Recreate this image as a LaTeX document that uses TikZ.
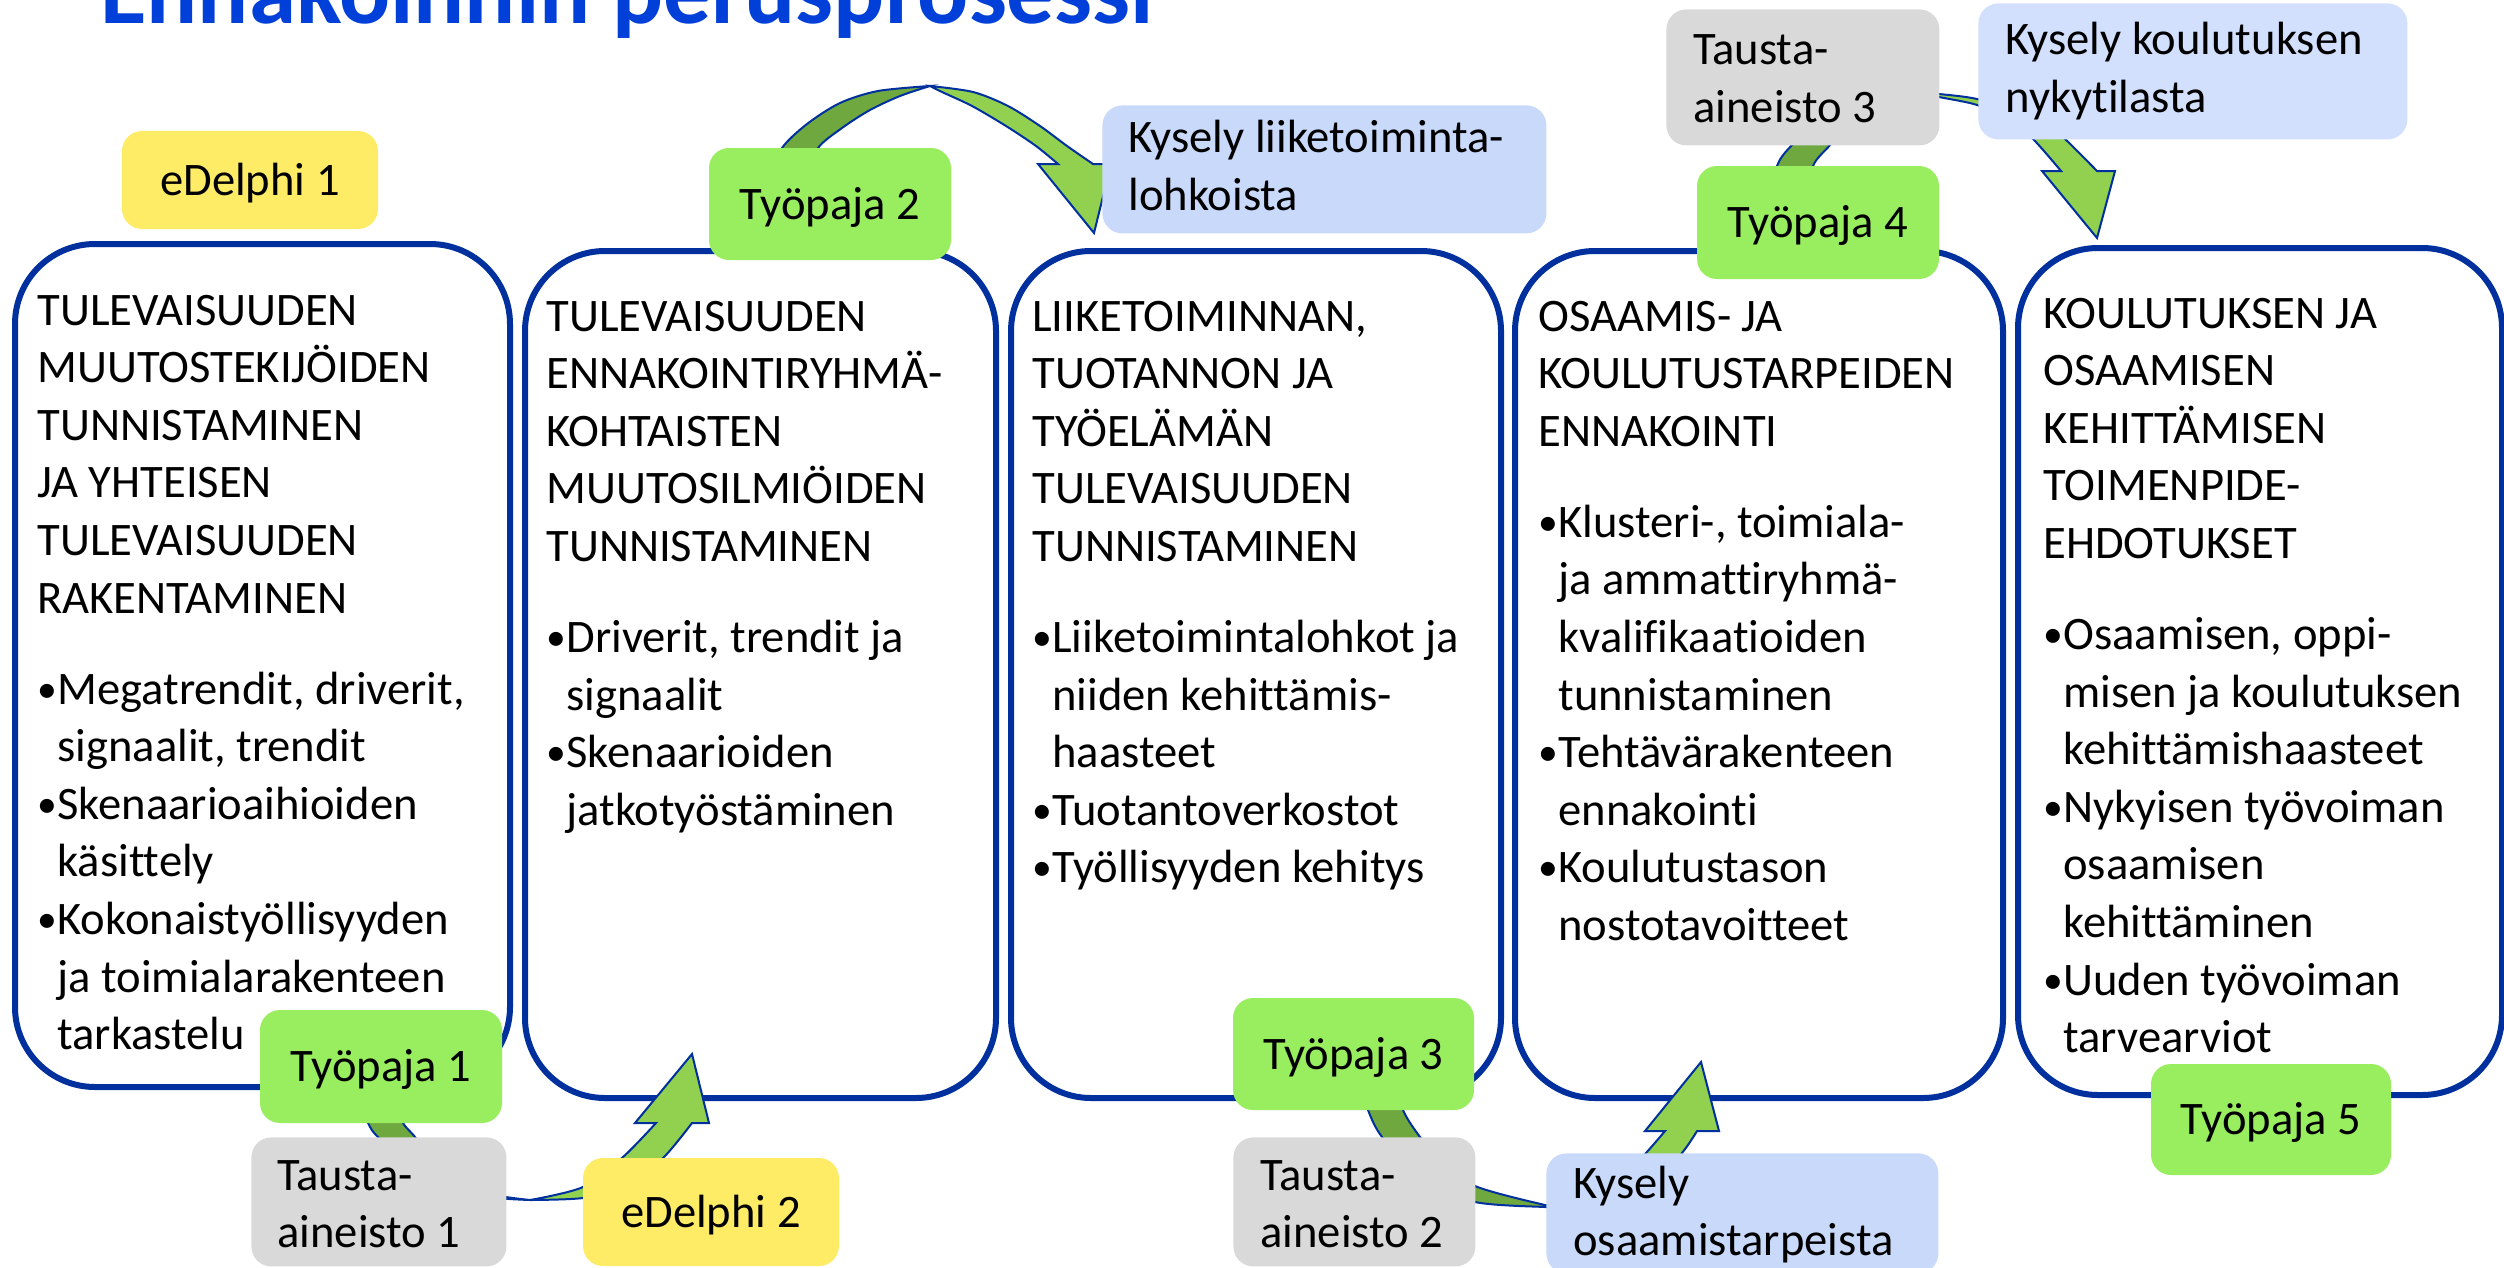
\documentclass[tikz,border=0pt]{standalone}
\usepackage{fontspec}
\setmainfont{Carlito}[Ligatures=NoCommon]
\definecolor{boxblue}{RGB}{0,48,158}
\definecolor{titleblue}{RGB}{0,64,216}
\definecolor{labgreen}{RGB}{153,238,96}
\definecolor{labyellow}{RGB}{255,236,102}
\definecolor{labgray}{RGB}{217,217,217}
\definecolor{kyselyA}{RGB}{200,217,250}
\definecolor{kyselyB}{RGB}{210,223,253}
\definecolor{arrowgreen}{RGB}{146,208,80}
\definecolor{arrowdark}{RGB}{112,168,64}
\newcommand{\bulletmark}{\makebox[10pt][l]{\raisebox{1pt}{\scalebox{0.85}{•}}}}
\newcommand{\contind}{\hspace*{10pt}}
\newcommand{\boxfont}{\fontsize{23.3}{28.8}\selectfont}
\begin{document}
\begin{tikzpicture}[x=0.5pt,y=-0.5pt,
  bigbox/.style={draw=boxblue, line width=3pt, fill=white, rounded corners=40pt, inner sep=0, anchor=north west},
  boxtext/.style={anchor=base west, inner sep=0, font=\boxfont},
  lab/.style={rounded corners=10pt, inner sep=0, font=\boxfont, text height=15pt, text depth=0pt},
  labshape/.style={rounded corners=10pt, inner sep=0, anchor=north west},
  labtext/.style={anchor=base west, inner sep=0, font=\boxfont},
  arrowback/.style={fill=arrowdark, draw=boxblue, line width=1pt, line join=miter},
  arrowfront/.style={fill=arrowgreen, draw=boxblue, line width=1pt, line join=miter},
]
\path[use as bounding box, clip] (0,0) rectangle (2504,1268);
\fill[white] (0,0) rectangle (2504,1268);

% title (cut at top)
\node[anchor=base west, inner sep=0, text=titleblue, font=\bfseries\fontsize{47.6}{56}\selectfont] (title) at (100,24) {Ennakoinnin perusprosessi};

% big boxes
\node[bigbox, minimum width=247.5pt, minimum height=421.5pt] (b1) at (12,241) {};
\node[bigbox, minimum width=235.5pt, minimum height=423.5pt] (b2) at (522,248) {};
\node[bigbox, minimum width=245pt, minimum height=423.5pt] (b3) at (1008,248) {};
\node[bigbox, minimum width=244pt, minimum height=423.5pt] (b4) at (1512,248) {};
\node[bigbox, minimum width=242pt, minimum height=423.5pt] (b5) at (2015,245) {};

% box texts
\node[boxtext] (t1) at (37,325) {\parbox[t]{320pt}{TULEVAISUUDEN\\ MUUTOSTEKIJÖIDEN\\ TUNNISTAMINEN\\ JA YHTEISEN\\ TULEVAISUUDEN\\ RAKENTAMINEN\\[16.75pt]
\bulletmark Megatrendit, driverit,\\ \contind signaalit, trendit\\ \bulletmark Skenaarioaihioiden\\ \contind käsittely\\ \bulletmark Kokonaistyöllisyyden\\ \contind ja toimialarakenteen\\ \contind tarkastelu}};

\node[boxtext] (t2) at (546,331) {\parbox[t]{320pt}{TULEVAISUUDEN\\ ENNAKOINTIRYHMÄ-\\ KOHTAISTEN\\ MUUTOSILMIÖIDEN\\ TUNNISTAMINEN\\[16.75pt]
\bulletmark Driverit, trendit ja\\ \contind signaalit\\ \bulletmark Skenaarioiden\\ \contind jatkotyöstäminen}};

\node[boxtext] (t3) at (1032,331) {\parbox[t]{320pt}{LIIKETOIMINNAN,\\ TUOTANNON JA\\ TYÖELÄMÄN\\ TULEVAISUUDEN\\ TUNNISTAMINEN\\[16.75pt]
\bulletmark Liiketoimintalohkot ja\\ \contind niiden kehittämis-\\ \contind haasteet\\ \bulletmark Tuotantoverkostot\\ \bulletmark Työllisyyden kehitys}};

\node[boxtext] (t4) at (1538,331) {\parbox[t]{320pt}{OSAAMIS- JA\\ KOULUTUSTARPEIDEN\\ ENNAKOINTI\\[16.75pt]
\bulletmark Klusteri-, toimiala-\\ \contind ja ammattiryhmä-\\ \contind kvalifikaatioiden\\ \contind tunnistaminen\\ \bulletmark Tehtävärakenteen\\ \contind ennakointi\\ \bulletmark Koulutustason\\ \contind nostotavoitteet}};

\node[boxtext] (t5) at (2043,328) {\parbox[t]{320pt}{KOULUTUKSEN JA\\ OSAAMISEN\\ KEHITTÄMISEN\\ TOIMENPIDE-\\ EHDOTUKSET\\[16.75pt]
\bulletmark Osaamisen, oppi-\\ \contind misen ja koulutuksen\\ \contind kehittämishaasteet\\ \bulletmark Nykyisen työvoiman\\ \contind osaamisen\\ \contind kehittäminen\\ \bulletmark Uuden työvoiman\\ \contind tarvearviot}};

% curved arrow 1 (Tyopaja 1 -> box 2)
\filldraw[arrowback] plot[smooth] coordinates {(338,1045) (352,1090) (368,1123) (378,1137) (420,1175) (470,1195) (530,1200)}
  -- plot[smooth] coordinates {(530,1200) (480,1192) (440,1170) (415,1137) (403,1123) (385,1090) (374,1045)} -- cycle;
\filldraw[arrowfront] plot[smooth] coordinates {(530,1200) (583,1187) (623,1157) (656,1123)}
  -- (635,1123) -- (692,1054) -- (709,1123) -- (692,1123)
  -- plot[smooth] coordinates {(692,1123) (663,1158) (625,1187) (583,1198) (530,1200)} -- cycle;

% curved arrow 2 (Tyopaja 2 -> box 3)
\filldraw[arrowback] plot[smooth] coordinates {(770,178) (782,148) (807,124) (840,103) (878,91) (930,86)}
  -- plot[smooth] coordinates {(930,86) (900,96) (870,110) (842,128) (818,148) (806,178)} -- cycle;
\filldraw[arrowfront] plot[smooth] coordinates {(930,86) (973,92) (1008,106) (1040,126) (1067,146) (1093,164)}
  -- (1111,164) -- (1094,233) -- (1038,164) -- (1058,164)
  -- plot[smooth] coordinates {(1058,164) (1036,146) (1006,126) (972,106) (942,92) (930,86)} -- cycle;

% curved arrow 3 (Tyopaja 3 -> box 4)
\filldraw[arrowback] plot[smooth] coordinates {(1356,1070) (1368,1110) (1382,1137) (1420,1180) (1475,1202) (1545,1207) (1565,1207)}
  -- plot[smooth] coordinates {(1565,1207) (1545,1205) (1475,1186) (1440,1160) (1420,1137) (1403,1110) (1392,1070)} -- cycle;
\filldraw[arrowfront] plot[smooth] coordinates {(1565,1207) (1610,1192) (1646,1153) (1665,1131)}
  -- (1645,1131) -- (1701,1062) -- (1719,1131) -- (1697,1131)
  -- plot[smooth] coordinates {(1697,1131) (1682,1153) (1645,1195) (1600,1207) (1565,1207)} -- cycle;

% curved arrow 4 (Tyopaja 4 -> box 5)
\filldraw[arrowback] plot[smooth] coordinates {(1770,205) (1777,166) (1792,145) (1830,110) (1880,96) (1925,93)}
  -- plot[smooth] coordinates {(1925,93) (1880,101) (1850,120) (1830,145) (1813,166) (1806,205)} -- cycle;
\filldraw[arrowfront] plot[smooth] coordinates {(1925,93) (1939,94) (1977,99) (2020,113) (2050,128) (2065,139) (2097,171)}
  -- (2115,171) -- (2097,238) -- (2042,171) -- (2061,171)
  -- plot[smooth] coordinates {(2061,171) (2033,139) (2010,121) (1977,105) (1939,97) (1925,93)} -- cycle;

% single-line labels
\node[lab, fill=labyellow, minimum width=128pt, minimum height=49pt] (ed1) at (250,180) {eDelphi 1};
\node[lab, fill=labgreen, minimum width=121pt, minimum height=56pt] (tp2) at (830,204) {Työpaja 2};
\node[lab, fill=labgreen, minimum width=121pt, minimum height=56.5pt] (tp4) at (1818,222.5) {Työpaja 4};
\node[lab, fill=labgreen, minimum width=121pt, minimum height=56.5pt] (tp1) at (381,1066.5) {Työpaja 1};
\node[lab, fill=labyellow, minimum width=128pt, minimum height=54pt] (ed2) at (711,1212) {eDelphi 2};
\node[lab, fill=labgreen, minimum width=120.5pt, minimum height=56pt] (tp3) at (1353.5,1054) {Työpaja 3};
\node[lab, fill=labgreen, minimum width=120pt, minimum height=55.5pt] (tp5) at (2271,1119.5) {Työpaja 5};

% two-line labels
\node[labshape, fill=kyselyA, minimum width=222pt, minimum height=64pt] (ky1) at (1102,105) {};
\node[labtext] (ky1t) at (1128,153) {\parbox[t]{250pt}{Kysely liiketoiminta-\\lohkoista}};
\node[labshape, fill=labgray, minimum width=136.5pt, minimum height=68pt] (ta3) at (1666,9) {};
\node[labtext] (ta3t) at (1693,65) {\parbox[t]{150pt}{Tausta-\\aineisto 3}};
\node[labshape, fill=kyselyB, minimum width=214.5pt, minimum height=68pt] (ky2) at (1978,3) {};
\node[labtext] (ky2t) at (2005,55) {\parbox[t]{250pt}{Kysely koulutuksen\\nykytilasta}};
\node[labshape, fill=labgray, minimum width=127.5pt, minimum height=64.5pt] (ta1) at (251,1137) {};
\node[labtext] (ta1t) at (277,1190) {\parbox[t]{150pt}{Tausta-\\aineisto 1}};
\node[labshape, fill=labgray, minimum width=121pt, minimum height=64.5pt] (ta2) at (1233,1137) {};
\node[labtext] (ta2t) at (1260,1190) {\parbox[t]{150pt}{Tausta-\\aineisto 2}};
\node[labshape, fill=kyselyA, minimum width=196pt, minimum height=60pt] (ky3) at (1546,1153) {};
\node[labtext] (ky3t) at (1573,1198) {\parbox[t]{250pt}{Kysely\\osaamistarpeista}};
\end{tikzpicture}
\end{document}
